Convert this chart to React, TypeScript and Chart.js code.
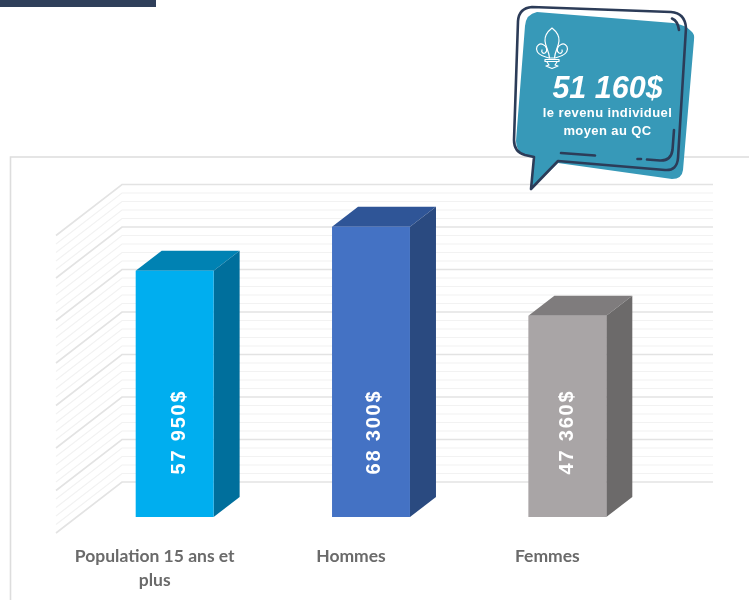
import React, { useEffect, useRef } from "react";
import { Chart, registerables } from "chart.js";

Chart.register(...registerables);

const categories: (string | string[])[] = [["Population 15 ans et", "plus"], "Hommes", "Femmes"];
const values = [57950, 68300, 47360];
const valueLabels = ["57 950$", "68 300$", "47 360$"];
const frontColors = ["#00aeef", "#4472c4", "#a9a5a6"];
const topColors = ["#0082b3", "#2f5597", "#7f7c7d"];
const sideColors = ["#006f9c", "#2a4a80", "#6c6a6a"];
const labelShift = [5, 3, 0];
const calloutBig = "51 160$";
const calloutLines = ["le revenu individuel", "moyen au QC"];

const NAVY = "#2c3c58";
const TEAL = "#3799b8";

const wallPlugin = {
  id: "wall",
  beforeDatasetsDraw(chart: any) {
    const { ctx, scales } = chart;
    const y = scales.y;
    ctx.save();
    // frame
    ctx.strokeStyle = "#dddddd";
    ctx.lineWidth = 1.6;
    ctx.beginPath();
    ctx.moveTo(10.5, 600);
    ctx.lineTo(10.5, 157);
    ctx.lineTo(749, 157);
    ctx.stroke();
    // grid on back wall and left wall, one line per scale tick
    y.ticks.forEach((t: any) => {
      const major = t.value % 10000 === 0;
      const py = y.getPixelForValue(t.value);
      ctx.strokeStyle = major ? "#e3e3e3" : "#f2f2f2";
      ctx.lineWidth = major ? 1.6 : 1.2;
      ctx.beginPath();
      ctx.moveTo(56, py + 16);
      ctx.lineTo(122, py - 35);
      ctx.lineTo(713, py - 35);
      ctx.stroke();
    });
    ctx.restore();
  },
};

const bar3dPlugin = {
  id: "bar3d",
  beforeDatasetsDraw(chart: any) {
    const { ctx } = chart;
    const dx = 26;
    const dy = 20;
    chart.getDatasetMeta(0).data.forEach((b: any, i: number) => {
      const l = b.x - b.width / 2;
      const r = b.x + b.width / 2;
      ctx.save();
      ctx.fillStyle = topColors[i];
      ctx.beginPath();
      ctx.moveTo(l, b.y);
      ctx.lineTo(l + dx, b.y - dy);
      ctx.lineTo(r + dx, b.y - dy);
      ctx.lineTo(r, b.y);
      ctx.closePath();
      ctx.fill();
      ctx.fillStyle = sideColors[i];
      ctx.beginPath();
      ctx.moveTo(r, b.y);
      ctx.lineTo(r + dx, b.y - dy);
      ctx.lineTo(r + dx, b.base - dy);
      ctx.lineTo(r, b.base);
      ctx.closePath();
      ctx.fill();
      ctx.restore();
    });
  },
  afterDatasetsDraw(chart: any) {
    const { ctx } = chart;
    chart.getDatasetMeta(0).data.forEach((b: any, i: number) => {
      ctx.save();
      ctx.translate(b.x + labelShift[i], b.base - 85);
      ctx.rotate(-Math.PI / 2);
      ctx.fillStyle = "#ffffff";
      ctx.font = 'bold 20px "Liberation Sans"';
      (ctx as any).letterSpacing = "1.8px";
      ctx.textAlign = "center";
      ctx.textBaseline = "middle";
      ctx.fillText(valueLabels[i], 0, 0);
      ctx.restore();
    });
  },
};

const calloutPlugin = {
  id: "callout",
  afterDraw(chart: any) {
    const { ctx } = chart;
    ctx.save();
    // header band
    ctx.fillStyle = "#2f3f5a";
    ctx.fillRect(0, 0, 156, 7);

    // teal bubble
    ctx.fillStyle = TEAL;
    ctx.fill(
      new Path2D(
        "M537 12 L673 23 Q686 25 691 31 Q695 34 694 40 L683 170 Q682 179 672 179 L558 163 L531 189 L534 157 L526 156 Q516 152 516 141 L525 26 Q526 14 537 12 Z"
      )
    );

    // outline
    ctx.strokeStyle = NAVY;
    ctx.lineWidth = 2.6;
    ctx.lineCap = "round";
    ctx.lineJoin = "round";
    ctx.stroke(
      new Path2D(
        "M531 189 L534 157 L525 155 Q514 152 514 140 L518 21 Q519 8 532 7 L671 12 Q685 13 686 28 L678 158 Q677 171 665 170 L558 161 Z"
      )
    );
    ctx.stroke(new Path2D("M672 18.5 Q678 21 679 30"));
    ctx.stroke(new Path2D("M674 130 L672.5 150 Q671 161 660 160.5 L647 159.5"));
    ctx.stroke(new Path2D("M637.5 159 L641 159"));
    ctx.stroke(new Path2D("M561 153 L595 155.5"));

    // fleur-de-lis
    ctx.strokeStyle = "#ffffff";
    ctx.lineWidth = 1.2;
    ctx.stroke(new Path2D("M552 28 C547 32 544.5 36 545 41 C545.5 47 549 51 549.5 58 L554.5 58 C555 51 558.5 47 559 41 C559.5 36 557 32 552 28 Z"));
    ctx.stroke(new Path2D("M549 58 C546 57 537 56 536.5 49 C536.5 45 540 43 543 44.5 C547 46 548 51 545 53 C543 54 541 52 542 50"));
    ctx.stroke(new Path2D("M555 58 C558 57 567 56 567.5 49 C567.5 45 564 43 561 44.5 C557 46 556 51 559 53 C561 54 563 52 562 50"));
    ctx.stroke(new Path2D("M545 59.5 L559 59.5 L559 61.5 L545 61.5 Z M547 62 L549 65 L546 66 L552 68.5 L558 66 L555 65 L557 62"));

    // text
    ctx.fillStyle = "#ffffff";
    ctx.textAlign = "center";
    ctx.textBaseline = "middle";
    ctx.font = 'italic bold 30.5px "Liberation Sans"';
    ctx.fillText(calloutBig, 607.5, 89.5);
    ctx.font = 'bold 13px "Liberation Sans"';
    (ctx as any).letterSpacing = "0.4px";
    ctx.fillText(calloutLines[0], 607.5, 113);
    ctx.fillText(calloutLines[1], 607.5, 131);
    ctx.restore();
  },
};

export default function App() {
  const ref = useRef<HTMLCanvasElement>(null);
  useEffect(() => {
    const chart = new Chart(ref.current as HTMLCanvasElement, {
      type: "bar",
      data: {
        labels: categories as any,
        datasets: [
          {
            data: values,
            backgroundColor: frontColors,
            borderWidth: 0,
            categoryPercentage: 1,
            barPercentage: 0.397,
          },
        ],
      },
      plugins: [wallPlugin, bar3dPlugin, calloutPlugin],
      options: {
        animation: false,
        responsive: false,
        layout: { padding: { left: 76.5, right: 83.5, top: 219.5, bottom: 0 } },
        plugins: { legend: { display: false }, tooltip: { enabled: false } },
        scales: {
          y: {
            display: false,
            min: 0,
            max: 70000,
            ticks: { stepSize: 2000, maxTicksLimit: 100, autoSkip: false },
          },
          x: {
            grid: { display: false, drawTicks: false },
            border: { display: false },
            afterFit(s: any) {
              s.height = 83;
            },
            ticks: {
              padding: 27,
              labelOffset: -20,
              maxRotation: 0,
              autoSkip: false,
              color: "#6a6a6a",
              font: { family: "Lato", weight: "bold", size: 17.5, lineHeight: 1.37 },
            },
          },
        },
      },
    } as any);
    return () => chart.destroy();
  }, []);
  return (
    <div style={{ position: "absolute", left: 0, top: 0, width: 749, height: 600, overflow: "hidden", background: "#fff" }}>
      <canvas ref={ref} width={749} height={600} style={{ display: "block" }} />
    </div>
  );
}
